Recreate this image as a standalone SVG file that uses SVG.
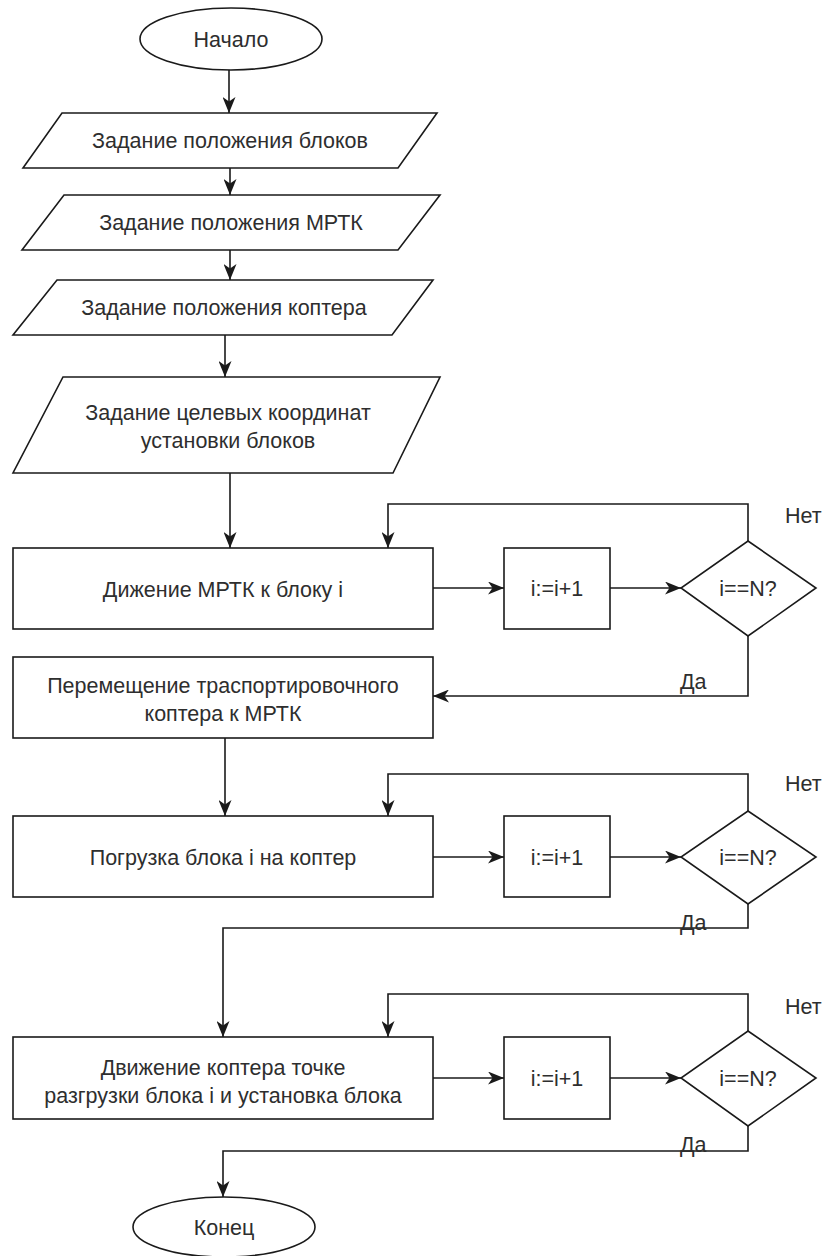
<svg xmlns="http://www.w3.org/2000/svg" width="824" height="1256" viewBox="0 0 824 1256">
  <style>
    .shape { fill: #ffffff; stroke: #1a1a1a; stroke-width: 1.6; }
    .wire { fill: none; stroke: #1a1a1a; stroke-width: 1.6; }
    .lbl { font-family: "Liberation Sans", Arial, sans-serif; font-size: 21.5px; fill: #2e2e2e; text-anchor: middle; dominant-baseline: central; }
    .tag { font-family: "Liberation Sans", Arial, sans-serif; font-size: 21.5px; fill: #2e2e2e; dominant-baseline: central; }
  </style>
  <defs>
    <marker id="arrow" markerUnits="userSpaceOnUse" markerWidth="17" markerHeight="13" viewBox="0 0 17 13" refX="16" refY="6.5" orient="auto">
      <path d="M0,0 L16,6.5 L0,13 L4.5,6.5 z" fill="#1a1a1a"/>
    </marker>
  </defs>
  <rect width="824" height="1256" fill="#ffffff"/>

  <!-- flow lines -->
  <g id="connectors">
    <path class="wire" d="M229,70 V113" marker-end="url(#arrow)"/>
    <path class="wire" d="M230,168 V195" marker-end="url(#arrow)"/>
    <path class="wire" d="M230,250 V280" marker-end="url(#arrow)"/>
    <path class="wire" d="M225,335 V377" marker-end="url(#arrow)"/>
    <path class="wire" d="M230,473 V548" marker-end="url(#arrow)"/>
    <!-- loop 1 -->
    <path class="wire" d="M433,588 H504" marker-end="url(#arrow)"/>
    <path class="wire" d="M610,588 H681" marker-end="url(#arrow)"/>
    <path class="wire" d="M748,541 V504 H388 V548" marker-end="url(#arrow)"/>
    <path class="wire" d="M748,636 V696 H433" marker-end="url(#arrow)"/>
    <path class="wire" d="M225,738 V816" marker-end="url(#arrow)"/>
    <!-- loop 2 -->
    <path class="wire" d="M433,857 H504" marker-end="url(#arrow)"/>
    <path class="wire" d="M610,857 H681" marker-end="url(#arrow)"/>
    <path class="wire" d="M748,811 V774 H388 V816" marker-end="url(#arrow)"/>
    <path class="wire" d="M748,904 V928 H223 V1037" marker-end="url(#arrow)"/>
    <!-- loop 3 -->
    <path class="wire" d="M433,1078 H504" marker-end="url(#arrow)"/>
    <path class="wire" d="M610,1078 H681" marker-end="url(#arrow)"/>
    <path class="wire" d="M748,1031 V994 H388 V1037" marker-end="url(#arrow)"/>
    <path class="wire" d="M748,1126 V1151 H223 V1197" marker-end="url(#arrow)"/>
  </g>

  <g id="start">
    <ellipse class="shape" cx="231" cy="39" rx="91" ry="31"/>
    <text class="lbl" x="231" y="40">Начало</text>
  </g>

  <g id="input-blocks">
    <polygon class="shape" points="62,113 437,113 398,168 23,168"/>
    <text class="lbl" x="230" y="141">Задание положения блоков</text>
  </g>

  <g id="input-mrtk">
    <polygon class="shape" points="64,195 440,195 398,250 22,250"/>
    <text class="lbl" x="231" y="223">Задание положения МРТК</text>
  </g>

  <g id="input-copter">
    <polygon class="shape" points="57,280 433,280 392,335 13,335"/>
    <text class="lbl" x="224" y="308">Задание положения коптера</text>
  </g>

  <g id="input-targets">
    <polygon class="shape" points="63,377 440,377 393,473 13,473"/>
    <text class="lbl" x="228" y="413">Задание целевых координат</text>
    <text class="lbl" x="228" y="441">установки блоков</text>
  </g>

  <g id="move-mrtk">
    <rect class="shape" x="13" y="548" width="420" height="81"/>
    <text class="lbl" x="223" y="590">Дижение МРТК к блоку i</text>
  </g>
  <g id="inc-1">
    <rect class="shape" x="504" y="548" width="106" height="81"/>
    <text class="lbl" x="557" y="589">i:=i+1</text>
  </g>
  <g id="check-1">
    <polygon class="shape" points="748,541 816,588 748,636 681,588"/>
    <text class="lbl" x="748" y="589">i==N?</text>
  </g>
  <text class="tag" x="785" y="516">Нет</text>
  <text class="tag" x="680" y="682">Да</text>

  <g id="move-copter">
    <rect class="shape" x="13" y="657" width="420" height="81"/>
    <text class="lbl" x="223" y="686">Перемещение траспортировочного</text>
    <text class="lbl" x="223" y="714">коптера к МРТК</text>
  </g>

  <g id="load-block">
    <rect class="shape" x="13" y="816" width="420" height="81"/>
    <text class="lbl" x="223" y="858">Погрузка блока i на коптер</text>
  </g>
  <g id="inc-2">
    <rect class="shape" x="504" y="816" width="106" height="81"/>
    <text class="lbl" x="557" y="858">i:=i+1</text>
  </g>
  <g id="check-2">
    <polygon class="shape" points="748,811 816,857 748,904 681,857"/>
    <text class="lbl" x="748" y="858">i==N?</text>
  </g>
  <text class="tag" x="785" y="784">Нет</text>
  <text class="tag" x="680" y="923">Да</text>

  <g id="deliver-block">
    <rect class="shape" x="13" y="1037" width="420" height="82"/>
    <text class="lbl" x="223" y="1068">Движение коптера точке</text>
    <text class="lbl" x="223" y="1096">разгрузки блока i и установка блока</text>
  </g>
  <g id="inc-3">
    <rect class="shape" x="504" y="1037" width="106" height="82"/>
    <text class="lbl" x="557" y="1079">i:=i+1</text>
  </g>
  <g id="check-3">
    <polygon class="shape" points="748,1031 816,1078 748,1126 681,1078"/>
    <text class="lbl" x="748" y="1079">i==N?</text>
  </g>
  <text class="tag" x="785" y="1007">Нет</text>
  <text class="tag" x="680" y="1145">Да</text>

  <g id="end">
    <ellipse class="shape" cx="224" cy="1227" rx="91" ry="30"/>
    <text class="lbl" x="224" y="1228">Конец</text>
  </g>
</svg>
